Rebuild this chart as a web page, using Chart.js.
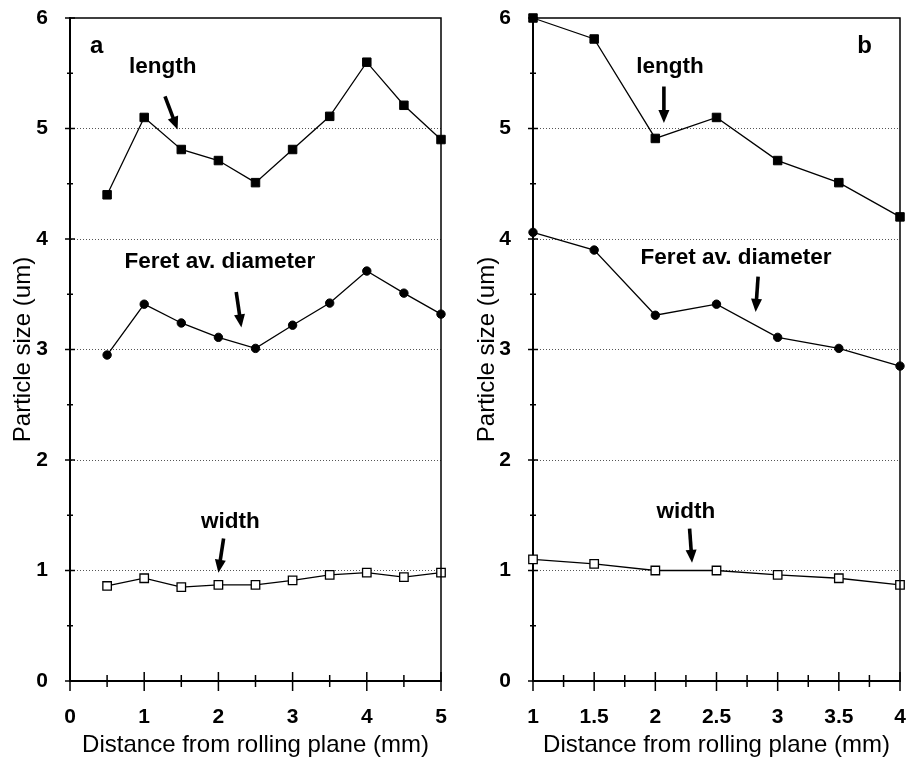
<!DOCTYPE html>
<html><head><meta charset="utf-8">
<script src="https://cdn.jsdelivr.net/npm/chart.js@4/dist/chart.umd.min.js"></script>
<style>
html,body{margin:0;padding:0;background:#fff;width:909px;height:767px;overflow:hidden}
#ca{position:absolute;left:0;top:0}
#cb{position:absolute;left:455px;top:0}
</style></head><body>
<canvas id="ca" width="455" height="767"></canvas>
<canvas id="cb" width="454" height="767"></canvas>
<script>
// ---- data ----
const distA   = [0.5, 1, 1.5, 2, 2.5, 3, 3.5, 4, 4.5, 5];
const lengthA = [4.40, 5.10, 4.81, 4.71, 4.51, 4.81, 5.11, 5.60, 5.21, 4.90];
const feretA  = [2.95, 3.41, 3.24, 3.11, 3.01, 3.22, 3.42, 3.71, 3.51, 3.32];
const widthA  = [0.86, 0.93, 0.85, 0.87, 0.87, 0.91, 0.96, 0.98, 0.94, 0.98];

const distB   = [1, 1.5, 2, 2.5, 3, 3.5, 4];
const lengthB = [6.00, 5.81, 4.91, 5.10, 4.71, 4.51, 4.20];
const feretB  = [4.06, 3.90, 3.31, 3.41, 3.11, 3.01, 2.85];
const widthB  = [1.10, 1.06, 1.00, 1.00, 0.96, 0.93, 0.87];

const yTicks  = [0, 1, 2, 3, 4, 5, 6];
const xTicksA = [0, 1, 2, 3, 4, 5];
const xTicksB = [1, 1.5, 2, 2.5, 3, 3.5, 4];
const seriesNames = ['length', 'Feret av. diameter', 'width'];
const panelLetters = ['a', 'b'];
const xTitle = 'Distance from rolling plane (mm)';
const yTitle = 'Particle size (um)';

// ---- annotation placement (data coordinates) ----
const annotA = {
  letter: {x: 0.36, y: 5.74},
  labels: [{x: 1.25, y: 5.56}, {x: 2.02, y: 3.79}, {x: 2.16, y: 1.44}],
  arrows: [[1.28, 5.29, 1.45, 4.99], [2.24, 3.52, 2.31, 3.20], [2.07, 1.29, 2.00, 0.98]]
};
const annotB = {
  letter: {x: 3.71, y: 5.74},
  labels: [{x: 2.12, y: 5.56}, {x: 2.66, y: 3.83}, {x: 2.25, y: 1.53}],
  arrows: [[2.07, 5.38, 2.07, 5.05], [2.84, 3.66, 2.82, 3.34], [2.28, 1.38, 2.30, 1.07]]
};

const FAM = '"Liberation Sans", Arial, Helvetica, sans-serif';

const decorPlugin = {
  id: 'decor',
  afterDraw(chart, args, opts) {
    const {ctx, chartArea: ca, scales: {x, y}} = chart;
    ctx.save();
    ctx.strokeStyle = '#000';
    // frame top & right
    ctx.lineWidth = 1.5;
    ctx.beginPath();
    ctx.moveTo(ca.left, ca.top); ctx.lineTo(ca.right, ca.top); ctx.lineTo(ca.right, ca.bottom);
    ctx.stroke();
    // y ticks crossing axis
    const yt = y.ticks.map(t => t.value);
    ctx.lineWidth = 1.5;
    yt.forEach((v, i) => {
      const p = y.getPixelForValue(v);
      ctx.beginPath(); ctx.moveTo(ca.left - 5, p); ctx.lineTo(ca.left + 5, p); ctx.stroke();
      if (i < yt.length - 1) {
        const m = y.getPixelForValue((v + yt[i + 1]) / 2);
        ctx.beginPath(); ctx.moveTo(ca.left - 3, m); ctx.lineTo(ca.left + 3, m); ctx.stroke();
      }
    });
    // x ticks crossing axis
    const xt = x.ticks.map(t => t.value);
    const step = opts.minorSplit;
    xt.forEach((v, i) => {
      const p = x.getPixelForValue(v);
      ctx.beginPath(); ctx.moveTo(p, ca.bottom - 9); ctx.lineTo(p, ca.bottom + 10); ctx.stroke();
      if (i < xt.length - 1) {
        for (let k = 1; k < step; k++) {
          const m = x.getPixelForValue(v + (xt[i + 1] - v) * k / step);
          ctx.beginPath(); ctx.moveTo(m, ca.bottom - 6); ctx.lineTo(m, ca.bottom + 6); ctx.stroke();
        }
      }
    });
    // annotations
    const an = opts.annot;
    ctx.fillStyle = '#000';
    ctx.textAlign = 'center';
    ctx.textBaseline = 'middle';
    ctx.font = 'bold 24px ' + FAM;
    ctx.fillText(opts.letter, x.getPixelForValue(an.letter.x), y.getPixelForValue(an.letter.y));
    ctx.font = 'bold 22.5px ' + FAM;
    an.labels.forEach((l, i) => {
      ctx.fillText(seriesNames[i], x.getPixelForValue(l.x), y.getPixelForValue(l.y));
    });
    an.arrows.forEach(a => {
      const x1 = x.getPixelForValue(a[0]), y1 = y.getPixelForValue(a[1]);
      const x2 = x.getPixelForValue(a[2]), y2 = y.getPixelForValue(a[3]);
      const dx = x2 - x1, dy = y2 - y1, len = Math.hypot(dx, dy);
      const ux = dx / len, uy = dy / len;
      const hl = 13, hw = 5.5;
      const bx = x2 - ux * hl, by = y2 - uy * hl;
      ctx.lineWidth = 3.6;
      ctx.beginPath(); ctx.moveTo(x1, y1); ctx.lineTo(bx + ux, by + uy); ctx.stroke();
      ctx.beginPath();
      ctx.moveTo(x2, y2);
      ctx.lineTo(bx - uy * hw, by + ux * hw);
      ctx.lineTo(bx + uy * hw, by - ux * hw);
      ctx.closePath(); ctx.fill();
    });
    ctx.restore();
  }
};

function pts(xs, ys) { return xs.map((v, i) => ({x: v, y: ys[i]})); }

function makeChart(id, xs, L, F, W, xTicks, minorSplit, yWidth, rightPad, yTitlePad, annot, letter) {
  return new Chart(document.getElementById(id), {
    type: 'line',
    data: {
      datasets: [
        {label: seriesNames[0], data: pts(xs, L), borderColor: '#000', borderWidth: 1.3,
         pointStyle: 'rect', pointRadius: 6, pointBackgroundColor: '#000', pointBorderColor: '#000', pointBorderWidth: 1, clip: false},
        {label: seriesNames[1], data: pts(xs, F), borderColor: '#000', borderWidth: 1.3,
         pointStyle: 'circle', pointRadius: 4.2, pointBackgroundColor: '#000', pointBorderColor: '#000', pointBorderWidth: 1, clip: false},
        {label: seriesNames[2], data: pts(xs, W), borderColor: '#000', borderWidth: 1.3,
         pointStyle: 'rect', pointRadius: 6, pointBackgroundColor: '#fff', pointBorderColor: '#000', pointBorderWidth: 1.3, clip: false}
      ]
    },
    options: {
      responsive: false,
      animation: false,
      events: [],
      layout: {padding: {top: 18, right: rightPad, left: 0, bottom: 0}},
      plugins: {legend: {display: false}, tooltip: {enabled: false},
        decor: {annot: annot, letter: letter, minorSplit: minorSplit}},
      scales: {
        x: {
          type: 'linear', min: xTicks[0], max: xTicks[xTicks.length - 1],
          afterBuildTicks: s => { s.ticks = xTicks.map(v => ({value: v})); },
          afterFit: s => { s.height = 86; },
          grid: {drawOnChartArea: false, drawTicks: true, tickLength: 21, tickColor: 'rgba(0,0,0,0)'},
          border: {display: true, color: '#000', width: 2},
          ticks: {color: '#000', padding: 3, maxRotation: 0, autoSkip: false,
                  font: {family: FAM, size: 21, weight: 'bold'}, callback: v => String(v)},
          title: {display: true, text: xTitle, color: '#000', font: {family: FAM, size: 24},
                  padding: {top: 0, bottom: 7}}
        },
        y: {
          type: 'linear', min: yTicks[0], max: yTicks[yTicks.length - 1],
          afterBuildTicks: s => { s.ticks = yTicks.map(v => ({value: v})); },
          afterFit: s => { s.width = yWidth; },
          grid: {drawTicks: true, tickLength: 19, tickColor: 'rgba(0,0,0,0)', lineWidth: 1,
                 color: c => (c.tick && c.tick.value > yTicks[0] && c.tick.value < yTicks[yTicks.length - 1]) ? '#555' : 'rgba(0,0,0,0)'},
          border: {display: true, color: '#000', width: 2, dash: [1, 2]},
          ticks: {color: '#000', padding: 3, font: {family: FAM, size: 21, weight: 'bold'}, callback: v => String(v)},
          title: {display: true, text: yTitle, color: '#000', font: {family: FAM, size: 24},
                  padding: {top: yTitlePad, bottom: 0}}
        }
      }
    },
    plugins: [decorPlugin]
  });
}

makeChart('ca', distA, lengthA, feretA, widthA, xTicksA, 2, 70, 14, 9, annotA, panelLetters[0]);
makeChart('cb', distB, lengthB, feretB, widthB, xTicksB, 2, 78, 9, 18, annotB, panelLetters[1]);
</script>
</body></html>
